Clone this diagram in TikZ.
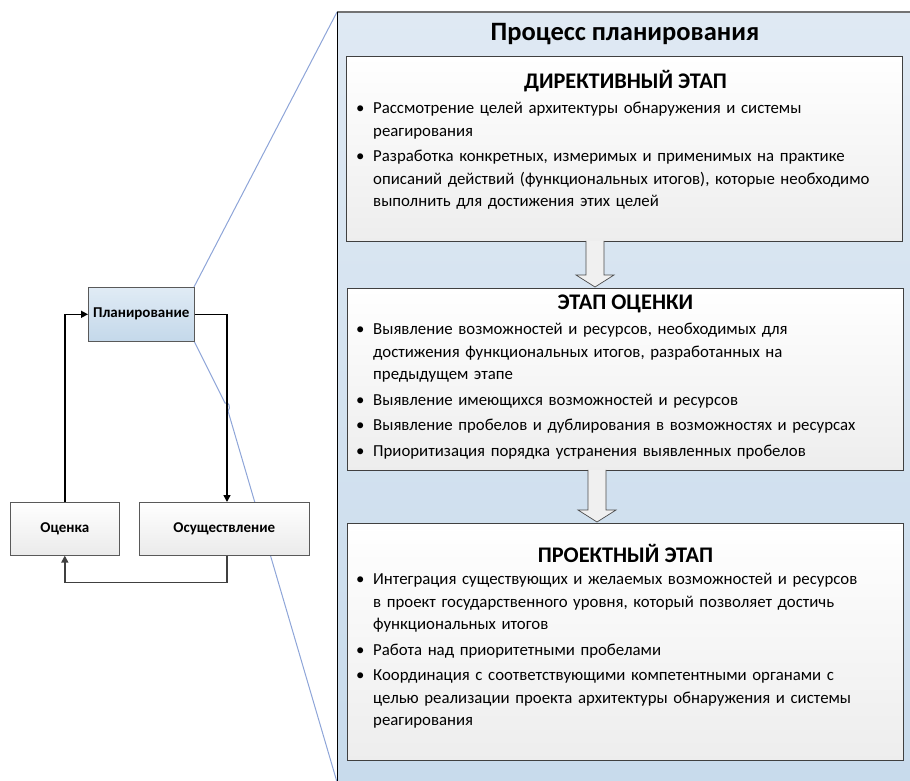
\documentclass[tikz,border=0pt]{standalone}
\usepackage{fontspec}
\setmainfont{Carlito}
\usetikzlibrary{calc,positioning,arrows.meta}

\definecolor{zoomblue}{RGB}{142,165,216}
\definecolor{paneltop}{RGB}{223,233,243}
\definecolor{panelbot}{RGB}{200,219,236}
\definecolor{plantop}{RGB}{224,235,245}
\definecolor{planbot}{RGB}{196,216,234}

% one bullet item, lines broken by hand
\newcommand\bul[1]{\par\noindent\makebox[19pt][l]{\hspace{2pt}•}\parbox[t]{525pt}{#1\strut}\par\prevdepth=\dp\strutbox}

\tikzset{
  stage/.style={draw=black!75, line width=0.9pt, top color=white, bottom color=black!7, anchor=north west, inner sep=0pt},
  stagetitle/.style={font=\bfseries\fontsize{22.3}{26}\selectfont, inner sep=0pt},
  bullets/.style={anchor=north west, inner sep=0pt, text width=548pt,
    font=\fontsize{16.8}{22.5}\selectfont\setlength{\parskip}{3pt}},
  cyc/.style={draw=black!65, line width=0.6pt, top color=white, bottom color=black!8, anchor=north west,
    inner sep=0pt, font=\bfseries\fontsize{15}{18}\selectfont},
  flow/.style={-{Triangle[length=7pt,width=7pt]}, line width=1.5pt},
  flowback/.style={flow, draw=black!75},
  zoomline/.style={draw=zoomblue, line width=1pt},
  blockarrow/.style={draw=black!70, fill=black!6, line width=0.7pt},
}

\begin{document}
\begin{tikzpicture}[x=1pt,y=1pt]
\useasboundingbox (0,0) rectangle (910,-780);

% zoom lines
\draw[zoomline] (194,-287) -- (337,-12);
\draw[zoomline] (194,-341) -- (225,-403) .. controls (229,-401) and (231,-408) .. (228,-411) -- (337,-782);

% panel
\fill[top color=paneltop, bottom color=panelbot] (337,-12) rectangle (915,-785);
\draw[black!55, line width=1.2pt] (337,-12) -- (915,-12);
\draw[line width=1pt] (337,-12) -- (337,-785);
\node[font=\bfseries\fontsize{26.5}{30}\selectfont, inner sep=0pt] (ttl) at (625,-34) {Процесс планирования};

% stages
\node[stage, minimum width=556pt, minimum height=185pt] (dir) at (346,-56) {};
\node[stage, minimum width=556pt, minimum height=182pt] (eval) at (347,-288) {};
\node[stage, minimum width=556pt, minimum height=237pt] (proj) at (347,-523) {};

\node[stagetitle] (dirttl) at ($(dir.north)+(1,-25)$) {ДИРЕКТИВНЫЙ ЭТАП};
\node[stagetitle] (evalttl) at ($(eval.north)+(0,-16)$) {ЭТАП ОЦЕНКИ};
\node[stagetitle] (projttl) at ($(proj.north)+(0,-30)$) {ПРОЕКТНЫЙ ЭТАП};

\node[bullets] (dirtxt) at (354,-88) {%
\bul{Рассмотрение целей архитектуры обнаружения и системы\\ реагирования}
\bul{Разработка конкретных, измеримых и применимых на практике\\ описаний действий (функциональных итогов), которые необходимо\\ выполнить для достижения этих целей}};
\node[bullets] (evaltxt) at (354,-309) {%
\bul{Выявление возможностей и ресурсов, необходимых для\\ достижения функциональных итогов, разработанных на\\ предыдущем этапе}
\bul{Выявление имеющихся возможностей и ресурсов}
\bul{Выявление пробелов и дублирования в возможностях и ресурсах}
\bul{Приоритизация порядка устранения выявленных пробелов}};
\node[bullets] (projtxt) at (354,-559) {%
\bul{Интеграция существующих и желаемых возможностей и ресурсов\\ в проект государственного уровня, который позволяет достичь\\ функциональных итогов}
\bul{Работа над приоритетными пробелами}
\bul{Координация с соответствующими компетентными органами с\\ целью реализации проекта архитектуры обнаружения и системы\\ реагирования}};

% block arrows between stages
\path (dir.south -| 595,0) coordinate (a1s) (eval.north -| 595,0) coordinate (a1e);
\path (eval.south -| 597,0) coordinate (a2s) (proj.north -| 597,0) coordinate (a2e);
\draw[blockarrow] ($(a1s)+(-9,1)$) -- ($(a1e)+(-9,13)$) -- ($(a1e)+(-19,13)$) -- ($(a1e)+(0,1)$)
  -- ($(a1e)+(19,13)$) -- ($(a1e)+(9,13)$) -- ($(a1s)+(9,1)$);
\draw[blockarrow] ($(a2s)+(-9,1)$) -- ($(a2e)+(-9,13)$) -- ($(a2e)+(-19,13)$) -- ($(a2e)+(0,1)$)
  -- ($(a2e)+(19,13)$) -- ($(a2e)+(9,13)$) -- ($(a2s)+(9,1)$);

% cycle
\node[cyc, top color=plantop, bottom color=planbot, minimum width=106pt, minimum height=54pt] (plan) at (88,-287) {Планирование};
\node[cyc, minimum width=109pt, minimum height=53pt] (ocen) at (10,-502) {Оценка};
\node[cyc, minimum width=170pt, minimum height=53pt] (osu) at (139,-502) {Осуществление};

\draw[flow] (ocen.north) |- (plan.west);
\draw[flow] (plan.east) -| (osu.north -| 227,0);
\draw[flowback] (osu.south -| 227,0) -- ++(0,-27) -| (ocen.south);
\end{tikzpicture}
\end{document}
